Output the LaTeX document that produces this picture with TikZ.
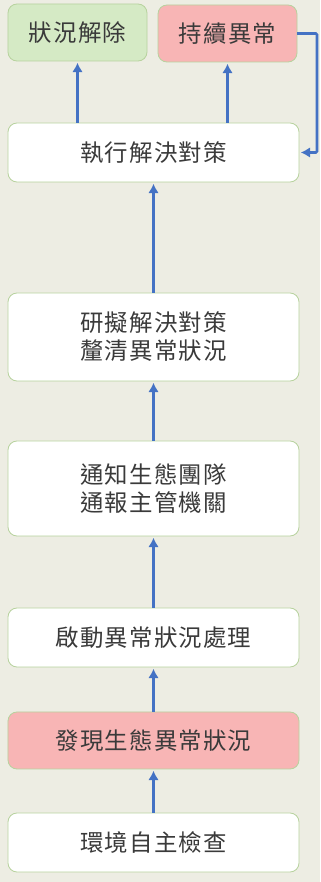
\documentclass[tikz,border=0pt]{standalone}
\usepackage{fontspec}
\setmainfont[LetterSpace=5]{Noto Sans CJK TC}
\usepackage{tikz}
\usetikzlibrary{
  shapes,
  arrows.meta,
  positioning,
}
\definecolor{bgpaper}{HTML}{EDEDE3}
\definecolor{boxline}{HTML}{B7D29E}
\definecolor{okgreen}{HTML}{D5EAC5}
\definecolor{alertred}{HTML}{F8B5B5}
\definecolor{flowblue}{HTML}{4472C4}
\definecolor{inktext}{HTML}{3A3A3A}
\tikzstyle{stepbox} = [
rectangle,
draw=boxline,
line width=0.7pt,
outer sep=0pt,
fill=white,
minimum width=8.73cm,
minimum height=1.77cm,
align=center,
text=inktext,
rounded corners=0.27cm
]
\tikzstyle{alertbox} = [
stepbox,
fill=alertred
]
\tikzstyle{endbox} = [
stepbox,
minimum width=4.17cm,
minimum height=1.71cm
]
\tikzstyle{arrow} = [draw=flowblue, line width=2.2pt, shorten >=1.5pt, -{Latex[length=2.8mm,width=3.2mm]}]

\begin{document}
\begin{tikzpicture}[font=\fontsize{20}{24}\selectfont]
  \useasboundingbox [fill=bgpaper] (0,0) rectangle (9.6,26.46);
  % Place nodes
  \node [stepbox] (check) at (4.605,1.185) {環境自主檢查};
  \node [alertbox, above=1.32cm of check, minimum height=1.71cm] (found) {發現生態異常狀況};
  \node [stepbox, above=1.35cm of found] (start) {啟動異常狀況處理};
  \node [stepbox, above=2.16cm of start, minimum height=2.85cm] (notify) {通知生態團隊\\通報主管機關};
  \node [stepbox, above=1.8cm of notify, minimum height=2.64cm] (plan) {研擬解決對策\\釐清異常狀況};
  \node [stepbox, above=3.33cm of plan] (exec) {執行解決對策};

  \node [endbox, fill=okgreen, above right=1.86cm and 0cm of exec.north west] (resolved) {狀況解除};
  \node [endbox, fill=alertred, above left=1.83cm and 0.06cm of exec.north east] (persist) {持續異常};

  % Draw edges
  \path [arrow] (check) -- (found);
  \path [arrow] (found) -- (start);
  \path [arrow] (start) -- (notify);
  \path [arrow] (notify) -- (plan);
  \path [arrow] (plan) -- (exec);

  \path [arrow] (exec.north -| resolved) -- (resolved);
  \path [arrow] (exec.north -| persist) -- (persist);
  \path [arrow, rounded corners=1pt] (persist.east) -- ++(0.6,0) |- (exec.east);
\end{tikzpicture}
\end{document}
